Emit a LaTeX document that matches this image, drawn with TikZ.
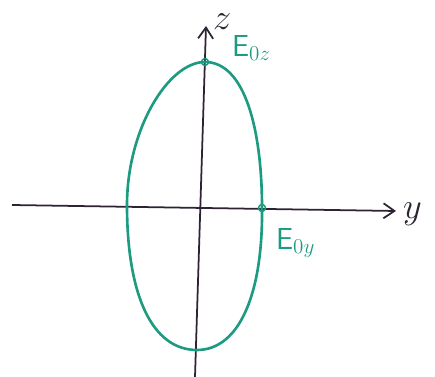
\documentclass[tikz,border=0pt]{standalone}
\usepackage{tikz}
\usetikzlibrary{arrows.meta,positioning}
\definecolor{figteal}{RGB}{28,155,128}
\definecolor{figaxis}{RGB}{45,35,50}
\tikzset{
  axis/.style={-{Straight Barb[length=2.2mm,width=3mm]}, draw=figaxis, line width=1pt},
  curve/.style={draw=figteal, line width=1.5pt},
  dotmark/.style={circle, draw=figteal, line width=0.8pt, minimum size=4pt, inner sep=0pt},
  axlabel/.style={font=\huge, text=figaxis},
  fieldlabel/.style={font=\LARGE\sffamily, text=figteal}
}
\begin{document}
\begin{tikzpicture}[x=0.02cm,y=-0.02cm]
  \useasboundingbox (0,0) rectangle (435,377);
  % axes
  \coordinate (zlow) at (195,377);
  \coordinate (ztop) at (206,26);
  \coordinate (yleft) at (12,205);
  \coordinate (yright) at (396,211);
  \draw[axis] (zlow) -- (ztop);
  \draw[axis] (yleft) -- (yright);
  \node[axlabel, anchor=west] (zlab) at (207,22) {$z$};
  \node[axlabel, anchor=west] (ylab) at (397,214) {$y$};
  % polarisation curve
  \coordinate (ctop) at (205,62);
  \coordinate (cright) at (262,208);
  \coordinate (cbot) at (197,350);
  \coordinate (cleft) at (127,205);
  \draw[curve] (ctop) .. controls (245,62) and (262,130) .. (cright)
    .. controls (263,292) and (240,350) .. (cbot)
    .. controls (152,350) and (127,295) .. (cleft)
    .. controls (127,130) and (168,62) .. (ctop) -- cycle;
  \node[dotmark] (ez) at (ctop) {};
  \node[dotmark] (ey) at (cright) {};
  \node[fieldlabel, anchor=west] (ezlab) at (226,48) {E$_{0z}$};
  \node[fieldlabel, anchor=north west] (eylab) at (270,222) {E$_{0y}$};
\end{tikzpicture}
\end{document}
